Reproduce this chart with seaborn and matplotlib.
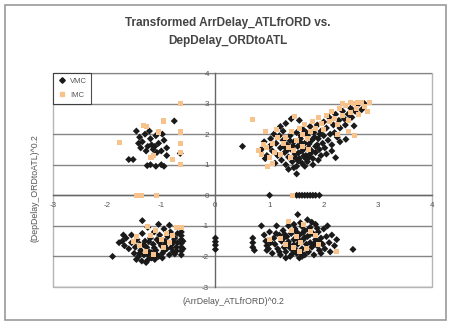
import matplotlib
matplotlib.use("Agg")
import matplotlib.pyplot as plt
import seaborn as sns
import pandas as pd
from matplotlib.patches import Rectangle
from matplotlib.lines import Line2D

# ---------------- data ----------------
title_text = "Transformed ArrDelay_ATLfrORD vs.\nDepDelay_ORDtoATL"
x_label = "(ArrDelay_ATLfrORD)^0.2"
y_label = "(DepDelay_ORDtoATL)^0.2"
x_ticks = [-3, -2, -1, 0, 1, 2, 3, 4]
y_ticks = [-3, -2, -1, 0, 1, 2, 3, 4]
categories = ["VMC", "IMC"]

vmc_upper_right = [
    (1.10,1.05),(1.15,1.30),(1.20,1.55),(1.22,1.15),(1.25,1.80),(1.28,1.40),(1.30,1.00),(1.32,1.65),
    (1.35,1.25),(1.38,1.95),(1.40,1.50),(1.42,1.10),(1.45,1.75),(1.47,1.35),(1.50,2.05),(1.50,0.95),
    (1.52,1.60),(1.55,1.20),(1.57,1.85),(1.60,1.45),(1.60,1.05),(1.62,2.15),(1.65,1.70),(1.67,1.30),
    (1.70,1.95),(1.70,1.10),(1.72,1.55),(1.75,2.25),(1.75,1.35),(1.78,1.80),(1.80,1.20),(1.82,2.05),
    (1.85,1.60),(1.85,1.40),(1.88,2.30),(1.90,1.85),(1.92,1.50),(1.95,2.10),(1.95,1.30),(1.98,1.70),
    (2.00,2.40),(2.00,1.95),(2.02,1.55),(2.05,2.20),(2.08,1.80),(2.10,2.55),(2.12,2.00),(2.15,1.65),
    (2.18,2.30),(2.20,2.05),(2.22,2.65),(2.25,1.90),(2.28,2.45),(2.30,2.20),(2.35,2.75),(2.38,2.50),
    (2.40,2.30),(2.45,2.65),(2.50,2.85),(2.52,2.55),(2.58,2.75),(2.62,2.95),(2.70,2.80),(2.75,3.00),
    (0.85,1.50),(0.90,1.75),(0.95,1.30),(1.00,1.60),(1.02,1.85),(1.05,1.45),(0.92,1.20),(1.08,2.00),
    (1.12,1.70),(1.18,1.95),(1.20,2.25),(1.30,2.35),(0.50,1.60),(1.50,0.70),(1.40,2.50),(1.55,2.45),
    (1.25,2.10),(1.35,0.85),(1.45,0.90),(1.65,0.95),(1.80,1.00),(1.90,1.15),(2.05,1.35),(2.15,1.45),
    (2.22,1.23),(2.41,1.83),(2.56,2.27),(2.30,1.75),
    (1.33,1.48),(1.43,1.62),(1.53,1.38),(1.63,1.52),(1.73,1.68),(1.58,1.72),(1.48,1.22),(1.68,1.18),
    (1.78,1.45),(1.88,1.65),(1.38,1.78),(1.28,1.58),(1.58,1.95),(1.68,2.05),(1.83,1.90),(1.93,2.00),
    (1.63,1.28),(1.53,1.12),(1.73,1.25),
]
vmc_zero_row = [
    (1.00,0),(1.50,0),(1.55,0),(1.60,0),(1.65,0),(1.70,0),(1.75,0),(1.80,0),(1.85,0),(1.92,0),
]
vmc_upper_left = [
    (-1.46,2.10),(-1.40,1.90),(-1.35,1.75),(-1.30,2.00),(-1.25,1.60),(-1.20,1.85),(-1.15,1.50),
    (-1.10,1.95),(-1.05,1.70),(-1.00,1.45),(-0.95,1.80),(-0.90,1.55),(-1.38,1.55),(-1.28,1.45),
    (-1.18,1.65),(-1.08,1.40),(-0.98,2.00),(-1.42,1.70),(-1.22,2.10),(-1.12,1.60),(-0.76,2.43),
    (-1.60,1.17),(-1.52,1.17),(-1.20,1.00),(-1.10,0.95),(-1.00,1.00),(-0.95,0.95),(-1.26,0.97),
    (-0.65,1.37),(-0.90,1.30),
]
vmc_lower_left = [
    (-1.72,-1.50),(-1.65,-1.40),(-1.68,-1.65),(-1.60,-1.75),(-1.55,-1.30),(-1.55,-1.55),(-1.50,-1.90),
    (-1.48,-1.70),(-1.45,-1.45),(-1.42,-2.00),(-1.40,-1.60),(-1.38,-1.80),(-1.35,-1.25),(-1.35,-0.83),
    (-1.32,-1.95),(-1.30,-1.50),(-1.28,-2.20),(-1.27,-1.70),(-1.25,-1.05),(-1.22,-1.85),(-1.20,-1.40),
    (-1.18,-2.05),(-1.15,-1.60),(-1.13,-1.20),(-1.10,-1.80),(-1.08,-1.45),(-1.05,-2.00),(-1.03,-1.30),
    (-1.00,-1.65),(-0.98,-1.90),(-0.95,-1.10),(-0.93,-1.50),(-0.90,-1.75),(-0.88,-1.35),(-0.85,-1.95),
    (-0.83,-1.20),(-0.80,-1.60),(-0.78,-1.85),(-0.75,-1.40),(-0.72,-1.70),(-0.70,-1.25),(-0.63,-1.20),
    (-0.63,-1.32),(-0.63,-1.45),(-0.63,-1.57),(-0.63,-1.70),(-0.63,-1.82),(-0.63,-1.95),(-0.60,-1.50),
    (-0.60,-1.75),(-1.90,-2.00),(-1.46,-2.10),(-1.36,-2.15),(-1.25,-2.12),(-1.12,-2.10),(-0.98,-2.05),
    (-0.85,-0.98),(-1.05,-0.95),(0.00,-1.40),(0.00,-1.52),(0.00,-1.63),(0.00,-1.77),(-1.78,-1.55),
    (-1.70,-1.30),(-1.33,-1.62),(-1.23,-1.52),(-1.13,-1.72),(-1.03,-1.55),(-0.93,-1.62),(-1.18,-1.88),
    (-1.08,-1.95),(-0.95,-1.82),(-1.40,-1.90),(-1.25,-1.95),(-0.82,-1.72),(-0.78,-1.50),(-0.75,-1.92),
    (-0.70,-1.55),(-0.72,-1.82),
]
vmc_lower_right = [
    (0.69,-1.40),(0.69,-1.55),(0.69,-1.70),(0.72,-1.80),(0.85,-1.00),(0.90,-1.30),(0.93,-1.50),
    (0.95,-1.65),(0.95,-1.80),(1.00,-1.20),(1.05,-1.90),(1.08,-1.40),(1.10,-1.60),(1.13,-1.00),
    (1.15,-1.75),(1.18,-1.30),(1.20,-1.95),(1.22,-1.50),(1.25,-1.15),(1.27,-1.70),(1.30,-1.85),
    (1.32,-1.35),(1.35,-1.00),(1.35,-1.60),(1.38,-2.00),(1.40,-1.25),(1.42,-1.78),(1.45,-1.45),
    (1.47,-1.10),(1.50,-1.90),(1.52,-0.63),(1.52,-1.60),(1.55,-1.30),(1.55,-2.05),(1.57,-0.90),
    (1.60,-1.75),(1.62,-1.45),(1.65,-1.15),(1.65,-1.95),(1.68,-1.60),(1.70,-0.80),(1.70,-1.35),
    (1.72,-1.85),(1.75,-1.05),(1.75,-1.55),(1.78,-1.70),(1.80,-1.25),(1.82,-1.95),(1.85,-1.45),
    (1.85,-0.95),(1.88,-1.65),(1.90,-1.20),(1.92,-1.80),(1.95,-1.40),(1.98,-1.60),(2.00,-1.10),
    (2.02,-1.75),(2.05,-1.35),(2.07,-1.00),(2.10,-1.55),(2.15,-1.30),(2.20,-1.65),(2.24,-1.45),
    (2.54,-1.77),(1.25,-1.42),(1.35,-1.52),(1.45,-1.62),(1.55,-1.48),(1.65,-1.38),(1.75,-1.28),
    (1.48,-1.78),(1.58,-1.88),(1.38,-1.72),(1.28,-1.28),(1.62,-1.22),(1.72,-1.12),(1.82,-1.58),
    (1.92,-1.52),(1.42,-1.92),(1.30,-2.05),(1.60,-2.00),(1.12,-1.25),(1.02,-1.55),(0.98,-1.75),
    (1.18,-1.85),(1.50,-1.20),(1.45,-0.95),(1.60,-1.02),(1.95,-1.90),(2.12,-1.85),(1.88,-1.08),
    (1.78,-0.88),
]

imc_upper_right = [
    (0.69,2.47),(1.46,2.57),(0.97,0.93),(0.85,1.35),(0.88,1.65),(0.95,1.55),(1.00,1.25),(1.05,1.70),
    (1.10,1.40),(0.80,1.45),(1.15,1.90),(1.20,1.35),(1.25,1.70),(1.30,1.90),(1.35,1.55),(1.40,2.10),
    (1.45,1.45),(1.50,1.80),(1.55,2.20),(1.60,1.60),(1.65,2.30),(1.70,1.85),(1.75,2.10),(1.80,2.40),
    (1.85,2.20),(1.90,2.55),(1.95,2.35),(2.00,2.15),(2.05,2.60),(2.10,2.40),(2.15,2.75),(2.20,2.50),
    (2.25,2.30),(2.30,2.85),(2.35,2.60),(2.40,2.95),(2.45,2.45),(2.50,2.70),(2.55,3.00),(2.60,2.85),
    (2.65,2.65),(2.70,3.05),(2.75,2.90),(2.80,2.75),(2.85,3.05),(2.25,2.00),(2.45,2.10),(2.57,1.97),
    (1.60,2.00),(1.72,1.50),(1.38,1.25),(1.05,1.05),(1.12,2.15),(0.93,2.10),(2.35,3.00),(2.50,3.05),
    (2.62,3.02),
]
imc_zero_row = [(1.43,0)]
imc_upper_left = [
    (-0.65,3.00),(-1.33,2.27),(-1.28,2.25),(-0.96,2.43),(-1.78,1.73),(-0.65,2.07),(-0.65,1.70),
    (-0.65,1.40),(-0.80,1.17),(-0.65,1.00),(-1.19,1.23),(-1.05,2.07),(-1.46,0.00),(-1.37,0.00),
    (-1.09,0.00),(-1.15,1.30),
]
imc_lower_left = [
    (-1.41,-1.63),(-1.26,-1.03),(-1.20,-1.30),(-1.10,-1.15),(-1.45,-1.35),(-1.00,-1.45),(-0.90,-1.25),
    (-0.85,-1.55),(-0.72,-1.05),(-0.63,-1.05),(-1.30,-1.85),(-1.15,-1.95),(-0.80,-1.30),(-1.52,-1.50),
    (-0.95,-1.70),
]
imc_lower_right = [
    (2.24,-1.83),(1.40,-1.15),(1.50,-1.35),(1.62,-0.95),(1.30,-1.60),(1.58,-1.55),(1.75,-1.20),
    (1.45,-1.70),(1.68,-1.75),(1.85,-1.30),(1.20,-1.40),(1.00,-1.45),(1.90,-1.62),(1.35,-0.85),
    (1.55,-1.85),
]

# ---------------- build table ----------------
vmc_pts = vmc_upper_right + vmc_zero_row + vmc_upper_left + vmc_lower_left + vmc_lower_right
imc_pts = imc_upper_right + imc_zero_row + imc_upper_left + imc_lower_left + imc_lower_right
df = pd.DataFrame(
    [(x, y, "VMC") for x, y in vmc_pts] + [(x, y, "IMC") for x, y in imc_pts],
    columns=["x", "y", "cond"],
)

# ---------------- style ----------------
sns.set_style("white")
plt.rcParams["font.family"] = ["Liberation Sans", "DejaVu Sans"]

W, H = 450, 322
fig = plt.figure(figsize=(W / 100, H / 100), dpi=100)
ax = fig.add_axes([53 / W, 1 - 287 / H, (432 - 53) / W, (287 - 73) / H])

vmc_color = "#1a1a1a"
imc_color = "#F8C28C"
palette = {"VMC": vmc_color, "IMC": imc_color}
markers = {"VMC": "D", "IMC": "s"}

sns.scatterplot(data=df, x="x", y="y", hue="cond", style="cond",
                hue_order=categories, style_order=categories,
                palette=palette, markers=markers, s=13, linewidth=0,
                legend=False, ax=ax, zorder=3)

ax.set_xlim(-3, 4)
ax.set_ylim(-3, 4)
ax.set_xticks(x_ticks)
ax.set_yticks(y_ticks)
ax.set_xlabel("")
ax.set_ylabel("")

# horizontal gridlines
ax.yaxis.grid(True, color="#858585", linewidth=1.0, zorder=1)
ax.xaxis.grid(False)
ax.set_axisbelow(True)

# axes crossing at origin
for side in ["left", "bottom"]:
    ax.spines[side].set_position(("data", 0))
    ax.spines[side].set_color("#666666")
    ax.spines[side].set_linewidth(1.0)
for side in ["top", "right"]:
    ax.spines[side].set_visible(False)
ax.add_patch(Rectangle((0, 0), 1, 1, transform=ax.transAxes, fill=False,
                       edgecolor="#b5b5b5", linewidth=1.0, zorder=0, clip_on=False))

ax.tick_params(axis="both", direction="inout", length=3, width=0.7,
               color="#666666", labelsize=5.8, labelcolor="#555555", pad=3)
ax.set_xticklabels([str(t) for t in x_ticks])
ax.set_yticklabels([str(t) for t in y_ticks])

# legend
handles = [
    Line2D([], [], marker="D", linestyle="", color=vmc_color, markersize=2.8),
    Line2D([], [], marker="s", linestyle="", color=imc_color, markersize=2.8),
]
leg = ax.legend(handles, categories, loc="upper left", bbox_to_anchor=(0, 1),
                borderaxespad=0, fontsize=5.5, frameon=True, fancybox=False,
                edgecolor="#222222", handlelength=1.2, handletextpad=0.4,
                borderpad=0.6, labelspacing=0.9, labelcolor="#555555")
leg.get_frame().set_linewidth(0.8)
leg.set_zorder(5)

# title and axis labels
fig.text(228 / W, 1 - 32 / H, title_text, ha="center", va="center",
         fontsize=8.5, fontweight="bold", color="#444444", linespacing=1.7)
fig.text(233 / W, 1 - 301 / H, x_label, ha="center", va="center",
         fontsize=6.3, color="#555555")
fig.text(35 / W, 1 - 188 / H, y_label, ha="center", va="center",
         fontsize=6.3, color="#555555", rotation=90)

# outer chart border
fig.patches.append(Rectangle((5 / W, 1 - 320 / H), (446 - 5) / W, (320 - 5) / H,
                             transform=fig.transFigure, fill=False,
                             edgecolor="#9a9a9a", linewidth=1.2))

fig.savefig("out.png", dpi=100)
